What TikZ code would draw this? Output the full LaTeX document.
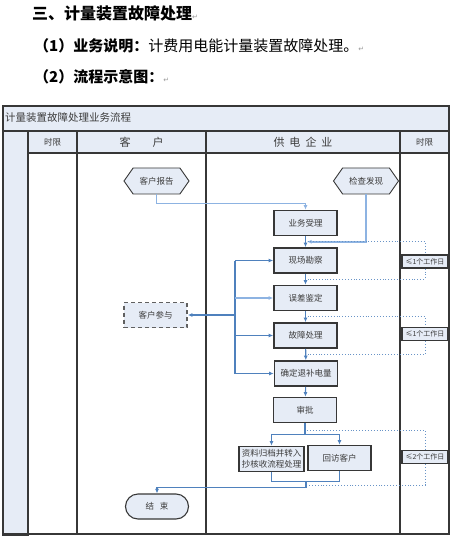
\documentclass[tikz,border=0pt]{standalone}
\usepackage{fontspec}
\setmainfont{Noto Sans CJK SC}
\newfontfamily\arrowfont{DejaVu Sans}
\usetikzlibrary{positioning,calc,arrows.meta,shapes.symbols}

\definecolor{lanefill}{RGB}{230,236,246}
\definecolor{frameline}{RGB}{55,55,55}
\definecolor{flowblue}{RGB}{79,129,189}
\definecolor{flowlight}{RGB}{141,179,226}
\definecolor{textgray}{RGB}{60,60,60}

\newcommand{\parmark}{{\mdseries\arrowfont\fontsize{7}{8}\selectfont\color{gray!80}↵}}

\tikzset{
  lane/.style={draw=frameline,line width=1.4pt},
  hdr/.style={font=\fontsize{8.5}{10}\selectfont,text=textgray},
  stepbox/.style={draw=frameline,line width=1.6pt,fill=lanefill,minimum width=63pt,
    minimum height=25pt,inner sep=1pt,align=center,
    font=\fontsize{8.5}{11}\selectfont,text=textgray},
  startbox/.style={stepbox,shape=signal,signal to=east and west,signal pointer angle=110,
    line width=0.9pt,minimum width=65pt,minimum height=26pt},
  endbox/.style={stepbox,rounded corners=12.5pt,line width=1.1pt},
  userbox/.style={stepbox,dash pattern=on 4pt off 3pt,draw=gray!75!black,line width=1.6pt},
  limitbox/.style={draw=frameline,line width=1.3pt,fill=lanefill,minimum width=46pt,
    minimum height=13pt,inner sep=0pt,font=\fontsize{7}{8}\selectfont,text=textgray},
  flow/.style={draw=flowblue,line width=1.1pt},
  flowlt/.style={draw=flowlight,line width=1.6pt},
  limitline/.style={draw=flowblue!85,line width=0.9pt,dotted},
}

\begin{document}
\begin{tikzpicture}[x=1pt,y=-1pt,>={Latex[length=4.5pt,width=4pt]}]
\useasboundingbox (0,0) rectangle (452,537);

% headings
\node[anchor=west,inner sep=0pt,font=\fontsize{16}{18}\selectfont\bfseries] (head) at (32,13) {三、计量装置故障处理\parmark};
\node[anchor=west,inner sep=0pt,font=\fontsize{15}{18}\selectfont] (desc) at (34,46) {\textbf{（1）业务说明：}计费用电能计量装置故障处理。\parmark};
\node[anchor=west,inner sep=0pt,font=\fontsize{15}{18}\selectfont] (sub) at (34,77) {\textbf{（2）流程示意图：}\parmark};

% lanes
\fill[lanefill] (3,106) rectangle (449,131);
\fill[lanefill] (28,131) rectangle (449,153);
\fill[lanefill] (3,131) rectangle (28,535);
\draw[lane] (3,106) rectangle (449,534);
\draw[lane] (3,131) -- (449,131);
\draw[lane] (28,153) -- (449,153);
\draw[lane] (3,131) rectangle (28,535);
\foreach \x in {77,206,400}
  \draw[lane] (\x,131) -- (\x,534);

\node[anchor=west,inner sep=0pt,font=\fontsize{10.5}{12}\selectfont,text=textgray] (flowtitle) at (5,118) {计量装置故障处理业务流程};
\node[hdr] (limitl) at (52.5,142) {时限};
\node[hdr,font=\fontsize{11}{12}\selectfont] (custlane) at (141.5,142) {客\hspace{22pt}户};
\node[hdr,font=\fontsize{11}{12}\selectfont] (corplane) at (303,142) {供\hspace{5pt}电\hspace{5pt}企\hspace{5pt}业};
\node[hdr] (limitr) at (424.5,142) {时限};

% steps
\node[startbox] (report) at (156.5,181) {客户报告};
\node[startbox] (check) at (366,181) {检查发现};
\node[stepbox] (accept) at (305.5,223) {业务受理};
\node[stepbox] (survey) at (305.5,260.5) {现场勘察};
\node[stepbox] (error) at (305.5,298) {误差鉴定};
\node[stepbox] (repair) at (305.5,335.5) {故障处理};
\node[stepbox] (refund) at (306,373.5) {确定退补电量};
\node[stepbox] (approve) at (305,410) {审批};
\node[stepbox,minimum width=65pt] (archive) at (271.5,459) {资料归档并转入\\抄核收流程处理};
\node[stepbox] (revisit) at (339.5,458) {回访客户};
\node[endbox] (finish) at (157,506.5) {结\hspace{6pt}束};
\node[userbox] (join) at (155.5,315) {客户参与};

% time limits
\node[limitbox] (lim1) at (425,261.5) {≤1个工作日};
\node[limitbox] (lim2) at (425,334) {≤1个工作日};
\node[limitbox] (lim3) at (425,457) {≤2个工作日};

% helper points
\coordinate (m1) at ($(accept.south)!0.5!(survey.north)$);
\coordinate (m2) at ($(survey.south)!0.5!(error.north)$);
\coordinate (m3) at ($(error.south)!0.5!(repair.north)$);
\coordinate (m4) at ($(repair.south)!0.5!(refund.north)$);
\coordinate (fork) at ($(approve.south)+(0,11)$);
\coordinate (merge) at ($(approve.south |- archive.south)+(1,9)$);
\coordinate (bus) at (235,315);

% flow
\draw[flowlt,->] (report.south) -- ++(0,9) -| (accept.north);
\draw[flowlt,->] (check.south) |- ([xshift=1.5pt]m1);
\draw[flow,->] (accept) -- (survey);
\draw[flow,->] (survey) -- (error);
\draw[flow,->] (error) -- (repair);
\draw[flow,->] (repair) -- (refund);
\draw[flow,->] (refund) -- (approve);
\draw[flow] (approve.south) -- (fork);
\draw[flow,->] (fork) -| (archive.north);
\draw[flow,->] (fork) -| (revisit.north);
\draw[flow] (archive.south) |- (merge);
\draw[flow] (revisit.south) |- (merge);
\draw[flow,->] (merge) -- ++(0,6) -| (finish.north);

% customer participation
\draw[flow] (bus |- survey.west) -- (bus |- refund.west);
\draw[flow,->] (bus |- survey.west) -- (survey.west);
\draw[flowlt,->] (bus |- error.west) -- (error.west);
\draw[flow,->] (bus |- repair.west) -- (repair.west);
\draw[flow,->] (bus |- refund.west) -- (refund.west);
\draw[flow,->] (bus) -- (join.east);

% time limit brackets
\draw[limitline] ([xshift=2pt]m1) -| (lim1.north);
\draw[limitline] (lim1.south) |- ([xshift=2pt]m2);
\draw[limitline] ([xshift=2pt]m3) -| (lim2.north);
\draw[limitline] (lim2.south) |- ([xshift=2pt]m4);
\draw[limitline] ([xshift=2pt,yshift=4pt]fork) -| (lim3.north);
\draw[limitline] (lim3.south) |- ([xshift=1pt,yshift=-4pt]merge);
\end{tikzpicture}
\end{document}
